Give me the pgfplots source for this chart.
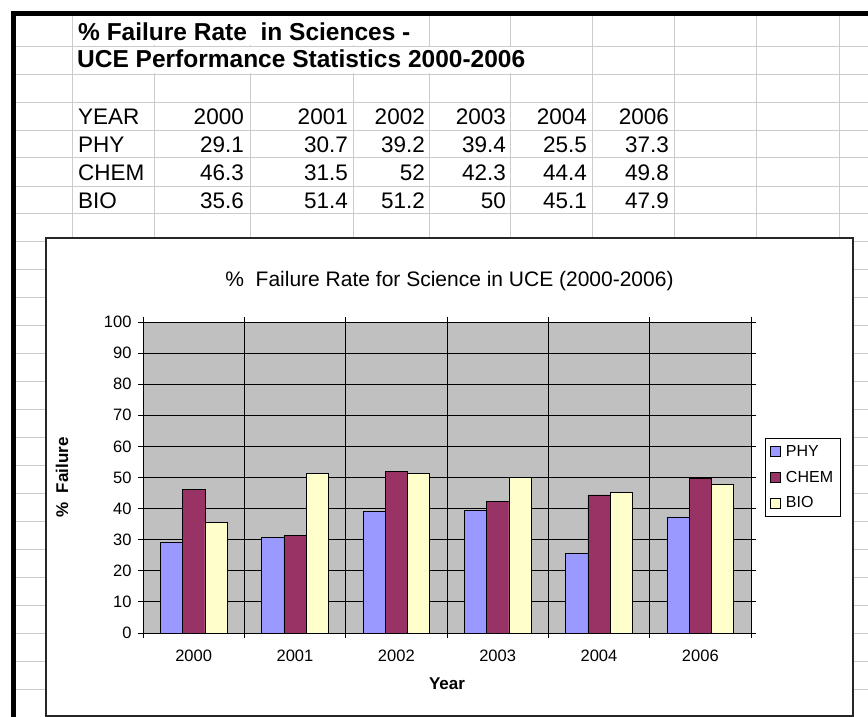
\documentclass[border=0pt]{standalone}
\usepackage{pgfplots}
\pgfplotsset{compat=1.18}
\usepackage{fontspec}
\setmainfont{Liberation Sans}
\definecolor{phy}{HTML}{9999FF}
\definecolor{chem}{HTML}{993366}
\definecolor{bio}{HTML}{FFFFCC}
\definecolor{plotbg}{HTML}{C0C0C0}
\definecolor{sheetgrid}{HTML}{CCCCCC}
\begin{document}
\begin{tikzpicture}[x=1pt,y=1pt]
\useasboundingbox (0,0) rectangle (868,717);
\fill[white] (0,0) rectangle (868,717);
% spreadsheet grid
\foreach \c in {72,154,250,353,429,510,592,674,756,839}
  \draw[sheetgrid, line width=0.8] (\c,0) -- (\c,703);
\foreach \r in {46,74,102,130,157,186,213,241,269,297,325,353,381,409,437,465,493,521,549,577,605,633,661,689}
  \draw[sheetgrid, line width=0.8] (15,717-\r) -- (868,717-\r);
\fill[white] (73,717-45) rectangle (428,717-15);
\fill[white] (73,717-73) rectangle (591,717-47);
\draw[line width=5, miter limit=2] (13,0) -- (13,703) -- (868,703);
% sheet text
\node[anchor=west, inner sep=0, font=\bfseries\fontsize{24.5}{27}\selectfont] at (78,685) {\% Failure Rate \ in Sciences -};
\node[anchor=west, inner sep=0, font=\bfseries\fontsize{24.5}{27}\selectfont] at (77,658) {UCE Performance Statistics 2000-2006};
\begin{scope}[every node/.style={inner sep=0, font=\fontsize{22.5}{24}\selectfont}]
\node[anchor=west] at (78,600) {YEAR};
\node[anchor=west] at (78,572) {PHY};
\node[anchor=west] at (78,544) {CHEM};
\node[anchor=west] at (78,516) {BIO};
\foreach \x/\a/\b/\c/\d in {244/2000/29.1/46.3/35.6, 348/2001/30.7/31.5/51.4, 425/2002/39.2/52/51.2, 506/2003/39.4/42.3/50, 587/2004/25.5/44.4/45.1, 669/2006/37.3/49.8/47.9}{
  \node[anchor=east] at (\x,600) {\a};
  \node[anchor=east] at (\x,572) {\b};
  \node[anchor=east] at (\x,544) {\c};
  \node[anchor=east] at (\x,516) {\d};
}
\end{scope}
% chart frame
\filldraw[fill=white, draw=black!85, line width=1.2] (46,1) rectangle (853,479);
\node[font=\fontsize{21}{24}\selectfont] at (449.5,436) {\% \ Failure Rate for Science in UCE (2000-2006)};
\begin{axis}[
  at={(143pt,84pt)}, anchor=south west,
  width=608pt, height=311pt, scale only axis,
  xmin=-0.5, xmax=5.5, ymin=0, ymax=100,
  enlargelimits=false,
  ybar, bar width=0.22,
  ytick={0,10,...,100},
  xtick={0,1,2,3,4,5},
  xticklabels={2000,2001,2002,2003,2004,2006},
  minor xtick={-0.5,0.5,1.5,2.5,3.5,4.5,5.5},
  major x tick style={draw=none},
  tick align=outside, major tick length=5pt, minor tick length=5pt,
  tick style={black, line width=0.8pt},
  xminorgrids=true, ymajorgrids=true,
  major grid style={black, line width=0.8pt},
  minor grid style={black, line width=0.8pt},
  axis line style={black, line width=0.8pt},
  axis background/.style={fill=plotbg},
  /pgf/number format/assume math mode=true,
  ticklabel style={font=\fontsize{16.5}{18}\selectfont},
  xticklabel style={yshift=-8pt},
  yticklabel style={xshift=-3pt},
  xlabel={Year}, ylabel={\% \ Failure},
  label style={font=\bfseries\fontsize{17}{19}\selectfont},
  xlabel style={at={(axis description cs:0.5,-0.164)}, anchor=center},
  ylabel style={at={(axis description cs:-0.133,0.5)}, anchor=center},
  legend style={at={(axis description cs:1.023,0.627)}, anchor=north west,
    draw=black, line width=0.8pt, font=\fontsize{16}{18}\selectfont,
    inner xsep=5pt, inner ysep=5pt, row sep=9pt, legend cell align=left,
    nodes={inner xsep=2pt}},
  legend image code/.code={\draw[#1, line width=0.6pt] (0pt,-5pt) rectangle (10pt,5pt);},
  /tikz/every odd column/.append style={column sep=3pt},
]
\addplot[fill=phy, draw=black, line width=0.6pt, bar shift=-0.22] coordinates {(0,29.1) (1,30.7) (2,39.2) (3,39.4) (4,25.5) (5,37.3)};
\addplot[fill=chem, draw=black, line width=0.6pt, bar shift=0] coordinates {(0,46.3) (1,31.5) (2,52) (3,42.3) (4,44.4) (5,49.8)};
\addplot[fill=bio, draw=black, line width=0.6pt, bar shift=0.22] coordinates {(0,35.6) (1,51.4) (2,51.2) (3,50) (4,45.1) (5,47.9)};
\legend{PHY,CHEM,BIO}
\end{axis}
\end{tikzpicture}
\end{document}
